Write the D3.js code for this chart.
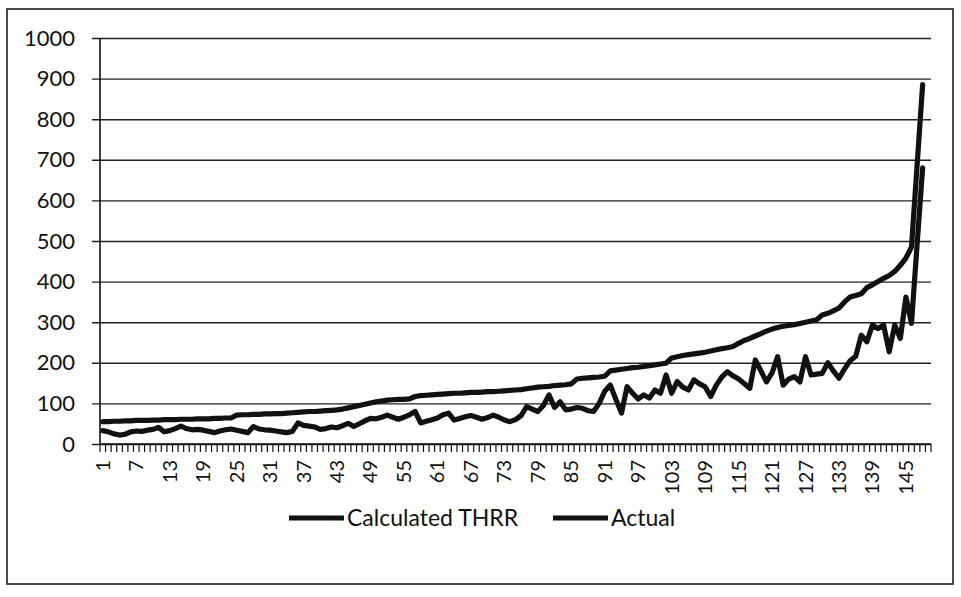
<!DOCTYPE html>
<html>
<head>
<meta charset="utf-8">
<script src="https://cdn.jsdelivr.net/npm/d3@7"></script>
<style>
  body { margin: 0; background: #fff; }
  text { font-family: Lato, "Open Sans", sans-serif; fill: #111; }
</style>
</head>
<body>
<div id="chart"></div>
<script>
var svgWidth = 961;
var svgHeight = 597;

// plot area inside the frame
var margin = { top: 38, right: 30, bottom: 153, left: 100 };
var width = 831;
var height = 406;

// categories 1..149 (last one has no value)
var categories = d3.range(1, 150);
var tickLabels = categories.filter(function (d) { return (d - 1) % 6 === 0; });
var yTicks = [0, 100, 200, 300, 400, 500, 600, 700, 800, 900, 1000];

var calculated = [
  55, 55, 56, 56, 57, 57, 58, 58, 58, 59, 59, 60, 60, 60, 61, 61, 61, 62, 62, 62,
  63, 63, 64, 64, 71, 72, 72, 73, 73, 74, 74, 75, 75, 76, 77, 78, 79, 80, 80, 81,
  82, 83, 84, 86, 89, 92, 95, 98, 101, 104, 106, 108, 109, 110, 110, 111, 117, 119, 120, 121,
  122, 123, 124, 125, 125, 126, 127, 127, 128, 129, 129, 130, 131, 132, 133, 134, 136, 138, 140, 141,
  142, 144, 145, 146, 148, 160, 162, 163, 164, 165, 167, 180, 182, 184, 186, 188, 189, 191, 193, 195,
  197, 199, 212, 215, 218, 220, 222, 224, 226, 229, 232, 235, 237, 240, 248, 255, 260, 266, 272, 278,
  283, 287, 290, 292, 294, 297, 300, 303, 306, 318, 322, 328, 335, 350, 362, 366, 370, 385, 392, 400,
  408, 415, 425, 440, 458, 485, 685, 885
];

var actual = [
  33, 30, 25, 22, 24, 30, 32, 31, 34, 36, 41, 30, 33, 38, 44, 38, 35, 36, 34, 31,
  28, 32, 35, 37, 34, 31, 28, 43, 37, 35, 34, 32, 30, 28, 31, 52, 46, 44, 42, 36,
  38, 42, 40, 45, 51, 43, 50, 57, 63, 62, 66, 71, 66, 61, 66, 72, 80, 52, 56, 60,
  64, 72, 76, 59, 63, 67, 70, 66, 61, 65, 71, 66, 59, 55, 60, 70, 92, 86, 80, 95,
  121, 90, 104, 84, 86, 90, 88, 82, 80, 100, 130, 145, 110, 76, 141, 125, 111, 121, 113, 133,
  125, 170, 125, 154, 140, 133, 158, 148, 141, 117, 145, 165, 178, 168, 160, 149, 137, 207, 180, 153,
  175, 215, 145, 160, 166, 153, 215, 170, 172, 174, 200, 180, 162, 185, 205, 216, 268, 252, 293, 284,
  293, 227, 293, 260, 362, 297, 490, 680
];

var seriesNames = ["Calculated THRR", "Actual"];

var svg = d3.select("#chart")
  .append("svg")
  .attr("width", svgWidth)
  .attr("height", svgHeight);

// outer frame
svg.append("rect")
  .attr("x", 7)
  .attr("y", 9)
  .attr("width", 946)
  .attr("height", 575)
  .attr("fill", "none")
  .attr("stroke", "#111")
  .attr("stroke-width", 1.5);

var chartGroup = svg.append("g")
  .attr("transform", "translate(" + margin.left + "," + margin.top + ")");

var x = d3.scaleBand()
  .domain(categories)
  .range([0, width]);

var y = d3.scaleLinear()
  .domain([0, 1000])
  .range([height, 0]);

// gridlines + y labels
var yAxis = d3.axisLeft(y)
  .tickValues(yTicks)
  .tickFormat(d3.format("d"))
  .tickSize(-(width + 8))
  .tickPadding(17);

chartGroup.append("g")
  .attr("transform", "translate(-8,0)")
  .call(yAxis)
  .call(function (g) { g.select(".domain").remove(); })
  .call(function (g) {
    g.selectAll("line").attr("stroke", "#222").attr("stroke-width", 1.4);
    g.selectAll("text").style("font-size", "22px").style("font-family", "Lato, sans-serif").attr("fill", "#111");
  });

// y axis line
chartGroup.append("line")
  .attr("x1", 0).attr("x2", 0)
  .attr("y1", 0).attr("y2", height)
  .attr("stroke", "#111")
  .attr("stroke-width", 1.6);

// x axis line
chartGroup.append("line")
  .attr("x1", 0).attr("x2", width)
  .attr("y1", height).attr("y2", height)
  .attr("stroke", "#111")
  .attr("stroke-width", 1.6);

// tick marks between categories
chartGroup.selectAll(".xtick")
  .data(categories.concat(["end"]))
  .enter()
  .append("line")
  .attr("class", "xtick")
  .attr("x1", function (d) { return d === "end" ? width : x(d); })
  .attr("x2", function (d) { return d === "end" ? width : x(d); })
  .attr("y1", height)
  .attr("y2", height + 8)
  .attr("stroke", "#111")
  .attr("stroke-width", 1.2);

// x labels, rotated
var xAxis = d3.axisBottom(x)
  .tickValues(tickLabels)
  .tickSize(0);

chartGroup.append("g")
  .attr("transform", "translate(0," + height + ")")
  .call(xAxis)
  .call(function (g) { g.select(".domain").remove(); })
  .selectAll("text")
  .attr("transform", "rotate(-90)")
  .attr("text-anchor", "end")
  .attr("x", -16)
  .attr("y", 0)
  .attr("dy", "0.35em")
  .style("font-size", "20px")
  .style("font-family", "Lato, sans-serif")
  .attr("fill", "#111");

var line = d3.line()
  .x(function (d, i) { return x(categories[i]) + x.bandwidth() / 2; })
  .y(function (d) { return y(d); });

[calculated, actual].forEach(function (s) {
  chartGroup.append("path")
    .datum(s)
    .attr("d", line)
    .attr("fill", "none")
    .attr("stroke", "#111")
    .attr("stroke-width", 5.2)
    .attr("stroke-linejoin", "round")
    .attr("stroke-linecap", "round");
});

// legend
var legendX = [289, 553];
var legend = svg.selectAll(".legend")
  .data(seriesNames)
  .enter()
  .append("g")
  .attr("class", "legend")
  .attr("transform", function (d, i) { return "translate(" + legendX[i] + ",518)"; });

legend.append("line")
  .attr("x1", 0).attr("x2", 55)
  .attr("y1", 0).attr("y2", 0)
  .attr("stroke", "#111")
  .attr("stroke-width", 5);

legend.append("text")
  .attr("x", 58)
  .attr("y", 0)
  .attr("dy", "0.35em")
  .style("font-size", "23px")
  .text(function (d) { return d; });
</script>
</body>
</html>
